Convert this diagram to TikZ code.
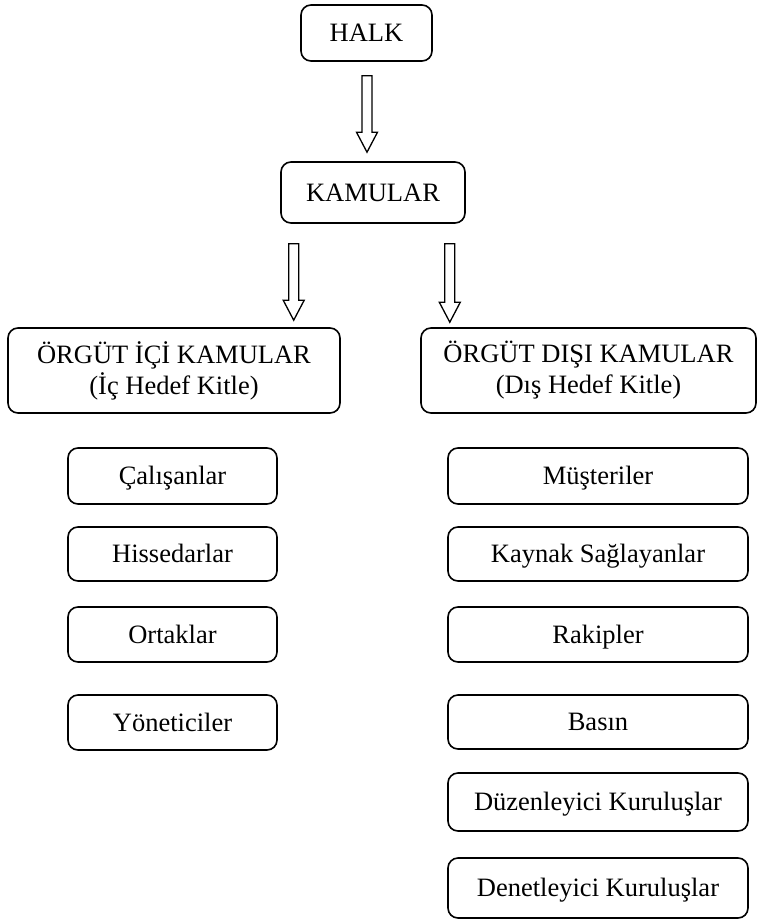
\documentclass[tikz,border=0pt]{standalone}
\usepackage{fontspec}
\setmainfont{Liberation Serif}
\usetikzlibrary{calc}
\tikzset{
  box/.style={draw=black, line width=1.6pt, rounded corners=10pt, align=center, inner sep=0pt,
    font=\fontsize{26.5}{31}\selectfont},
  onebox/.style={box, text height=17.5pt, text depth=0pt},
  hollow/.style={draw=black, line width=1.3pt, fill=white, line join=miter},
}
\newcommand\hollowarrow[2]{%
  \draw[hollow] let \p1=(#1), \p2=(#2) in
    (\x1-5pt,\y1) -- (\x1+5pt,\y1) -- (\x1+5pt,\y2+20pt) -- (\x1+10.5pt,\y2+20pt)
    -- (\x1,\y2) -- (\x1-10.5pt,\y2+20pt) -- (\x1-5pt,\y2+20pt) -- cycle;}
\begin{document}
\begin{tikzpicture}[x=1pt,y=-1pt]
\useasboundingbox (0,0) rectangle (758,922);
\node[onebox, minimum width=131pt, minimum height=56pt] (halk) at (366.5,33) {HALK};
\node[onebox, minimum width=184pt, minimum height=61pt] (kam) at (373,192.5) {KAMULAR};
\node[box, minimum width=332pt, minimum height=85pt] (ici) at (174,370.5) {ÖRGÜT İÇİ KAMULAR\\(İç Hedef Kitle)};
\node[box, minimum width=335pt, minimum height=85pt] (disi) at (588.5,370.5) {ÖRGÜT DIŞI KAMULAR\\(Dış Hedef Kitle)};
% left column
\node[onebox, minimum width=209pt, minimum height=56pt] (l1) at (172.5,476) {Çalışanlar};
\node[onebox, minimum width=209pt, minimum height=54pt] (l2) at (172.5,554) {Hissedarlar};
\node[onebox, minimum width=209pt, minimum height=55pt] (l3) at (172.5,634.5) {Ortaklar};
\node[onebox, minimum width=209pt, minimum height=55pt] (l4) at (172.5,722.5) {Yöneticiler};
% right column
\node[onebox, minimum width=300pt, minimum height=56pt] (r1) at (598,476) {Müşteriler};
\node[onebox, minimum width=300pt, minimum height=54pt] (r2) at (598,554) {Kaynak Sağlayanlar};
\node[onebox, minimum width=300pt, minimum height=55pt] (r3) at (598,634.5) {Rakipler};
\node[onebox, minimum width=300pt, minimum height=54pt] (r4) at (598,722) {Basın};
\node[onebox, minimum width=300pt, minimum height=58pt] (r5) at (598,802) {Düzenleyici Kuruluşlar};
\node[onebox, minimum width=300pt, minimum height=60pt] (r6) at (598,888) {Denetleyici Kuruluşlar};
% hollow arrows
\coordinate (a1s) at ($(halk.south)+(0.5,14)$);
\coordinate (a1e) at ($(kam.north -| a1s)+(0,-9)$);
\hollowarrow{a1s}{a1e}
\coordinate (a2s) at ($(kam.south west)+(13.5,20)$);
\coordinate (a2e) at ($(ici.north -| a2s)+(0,-7)$);
\hollowarrow{a2s}{a2e}
\coordinate (a3s) at ($(kam.south east)+(-16,20)$);
\coordinate (a3e) at ($(disi.north -| a3s)+(0,-5)$);
\hollowarrow{a3s}{a3e}
\end{tikzpicture}
\end{document}
